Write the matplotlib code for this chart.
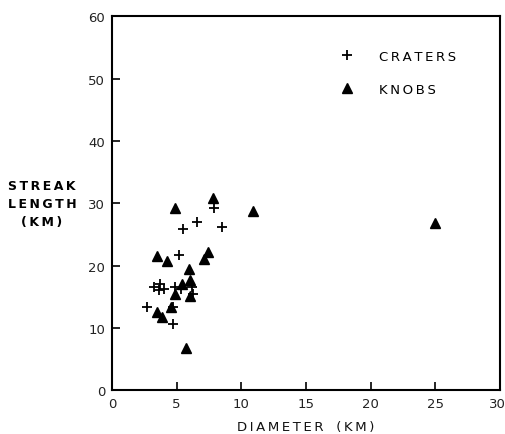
import matplotlib
matplotlib.use("Agg")
import matplotlib.pyplot as plt
import matplotlib.transforms as mtransforms

# Data
craters_x = [7.9, 6.6, 5.5, 8.5, 5.2, 3.25, 3.75, 3.6, 4.0, 2.7, 4.75, 4.7, 4.9, 5.3, 6.15, 6.25]
craters_y = [29.3, 27.0, 25.9, 26.2, 21.7, 16.6, 17.0, 16.0, 16.2, 13.3, 13.3, 10.6, 16.5, 16.2, 16.6, 15.4]

knobs_x = [4.9, 7.8, 10.9, 25.0, 3.5, 4.25, 7.4, 7.1, 5.95, 5.7, 3.45, 3.9, 4.55, 4.9, 5.4, 6.0, 6.0]
knobs_y = [29.2, 30.9, 28.8, 26.8, 21.5, 20.7, 22.1, 21.0, 19.5, 6.8, 12.5, 11.7, 13.3, 15.4, 17.1, 17.6, 15.1]

x_ticks = [0, 5, 10, 15, 20, 25, 30]
y_ticks = [0, 10, 20, 30, 40, 50, 60]

def spaced(s):
    return "\u2009".join(s)

fig = plt.figure(figsize=(5.06, 4.35), dpi=100)
ax = fig.add_axes([0.2213, 0.1011, 0.7667, 0.8587])

ax.plot(craters_x, craters_y, linestyle="none", marker="+", markersize=7.5,
        markeredgewidth=1.3, color="black", label=spaced("CRATERS"))
ax.plot(knobs_x, knobs_y, linestyle="none", marker="^", markersize=7.5,
        color="black", label=spaced("KNOBS"))

ax.set_xlim(0, 30)
ax.set_ylim(0, 60)
ax.set_xticks(x_ticks)
ax.set_yticks(y_ticks)
ax.set_xticklabels([str(t) for t in x_ticks])
ax.set_yticklabels([str(t) for t in y_ticks])
ax.tick_params(direction="in", length=6, width=1.2, labelsize=9.5,
               labelcolor="#222222", pad=5)
for sp in ax.spines.values():
    sp.set_linewidth(1.5)

# nudge the last x tick label so it stays inside the figure
last = ax.get_xticklabels()[-1]
last.set_transform(last.get_transform() +
                   mtransforms.ScaledTranslation(-3 / 100, 0, fig.dpi_scale_trans))

leg = ax.legend(loc="upper left", bbox_to_anchor=(0.573, 0.91), frameon=False,
                borderpad=0, borderaxespad=0, handletextpad=1.4,
                labelspacing=1.5, prop={"size": 9.5})

ax.set_xlabel(spaced("DIAMETER") + "   " + spaced("(KM)"), fontsize=9.5,
              labelpad=7, color="#111111")

fig.text(0.083, 0.531, spaced("STREAK") + "\n" + spaced("LENGTH") + "\n" + spaced("(KM)"),
         ha="center", va="center", fontsize=9, fontweight="bold",
         linespacing=1.5, multialignment="center")

fig.savefig("out.png", dpi=100)
